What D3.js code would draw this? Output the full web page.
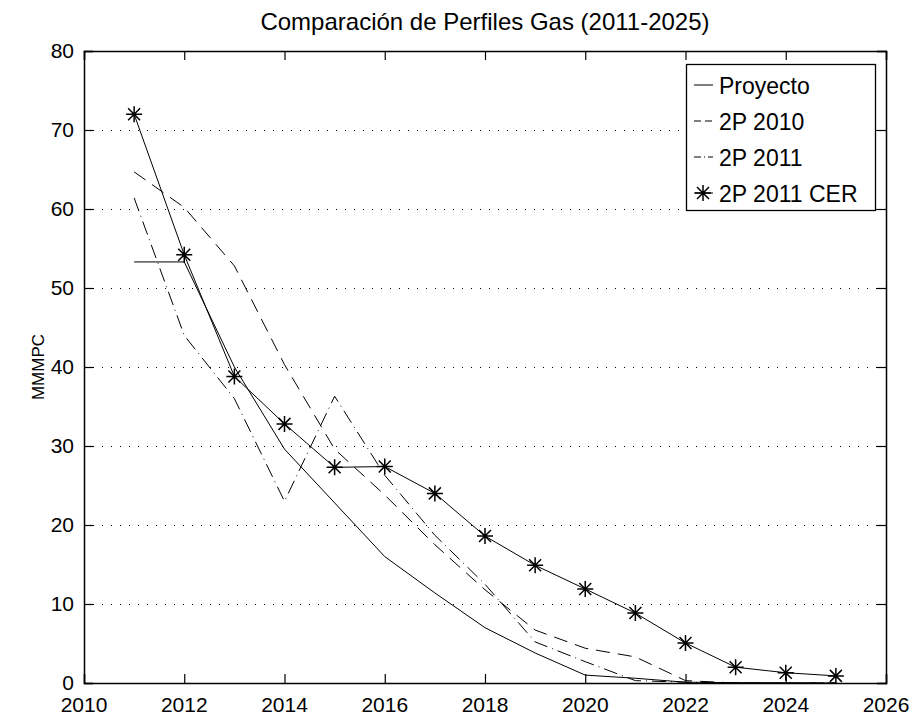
<!DOCTYPE html>
<html>
<head>
<meta charset="utf-8">
<script src="https://cdn.jsdelivr.net/npm/d3@7"></script>
<style>
  body { margin: 0; background: #fff; }
  text { font-family: "Liberation Sans", Arial, sans-serif; fill: #000; }
</style>
</head>
<body>
<div id="chart"></div>
<script>
var w = 915,
    h = 717;

// data
var years = [2011, 2012, 2013, 2014, 2015, 2016, 2017, 2018, 2019, 2020, 2021, 2022, 2023, 2024, 2025];
var proyecto = [53.3, 53.3, 40.0, 29.6, 22.8, 16.0, 11.4, 7.0, 3.8, 1.0, 0.6, 0.1, 0.05, 0.02, 0];
var p2010 = [64.7, 60.2, 52.8, 40.3, 29.6, 23.8, 17.5, 11.8, 6.7, 4.4, 3.3, 0.3, 0, 0, 0];
var p2011 = [61.4, 44.0, 36.0, 23.0, 36.3, 26.3, 18.7, 12.5, 5.2, 2.7, 0.3, 0.1, 0, 0, 0];
var p2011cer = [72.0, 54.2, 38.8, 32.8, 27.3, 27.4, 24.0, 18.6, 14.9, 11.9, 8.85, 5.06, 2.0, 1.3, 0.9];

var xTicks = [2010, 2012, 2014, 2016, 2018, 2020, 2022, 2024, 2026];
var yTicks = [0, 10, 20, 30, 40, 50, 60, 70, 80];
var gridTicks = [10, 20, 30, 40, 50, 60, 70];

var seriesNames = ["Proyecto", "2P 2010", "2P 2011", "2P 2011 CER"];
var seriesValues = [proyecto, p2010, p2011, p2011cer];
var dashes = [null, "14,8", "14,5,1,5", null];
var hasStars = [false, false, false, true];

var plotL = 84, plotR = 886, plotT = 51, plotB = 683;

var x = d3.scaleLinear().domain([2010, 2026]).range([plotL, plotR]);
var y = d3.scaleLinear().domain([0, 80]).range([plotB, plotT]);

var svg = d3.select("#chart").append("svg").
    attr("width", w).
    attr("height", h);

svg.append("rect").attr("width", w).attr("height", h).attr("fill", "#fff");

// dotted horizontal grid
svg.append("g").selectAll("line").data(gridTicks).enter().append("line").
    attr("x1", plotL).attr("x2", plotR).
    attr("y1", function(d) { return Math.round(y(d)) + 0.5; }).
    attr("y2", function(d) { return Math.round(y(d)) + 0.5; }).
    attr("stroke", "#000").
    attr("stroke-width", 1).
    attr("stroke-dasharray", "1,8").
    attr("shape-rendering", "crispEdges");

// lines
var line = d3.line().
    x(function(d) { return x(d[0]); }).
    y(function(d) { return y(d[1]); });

function starPath(cx, cy) {
  var a = 8, b = 6;
  return "M" + (cx - a) + "," + cy + "H" + (cx + a) +
         "M" + cx + "," + (cy - a) + "V" + (cy + a) +
         "M" + (cx - b) + "," + (cy - b) + "L" + (cx + b) + "," + (cy + b) +
         "M" + (cx - b) + "," + (cy + b) + "L" + (cx + b) + "," + (cy - b);
}

seriesValues.forEach(function(vals, i) {
  var pts = years.map(function(yr, j) { return [yr, vals[j]]; });
  svg.append("path").
      datum(pts).
      attr("d", line).
      attr("fill", "none").
      attr("stroke", "#000").
      attr("stroke-width", 1).
      attr("stroke-dasharray", dashes[i]);
  if (hasStars[i]) {
    svg.append("g").selectAll("path").data(pts).enter().append("path").
        attr("d", function(d) { return starPath(x(d[0]), y(d[1])); }).
        attr("stroke", "#000").
        attr("stroke-width", 1.5).
        attr("fill", "none");
  }
});

// axes, ticks pointing inwards, box all round
var tickLen = 9;
var ax = svg.append("g");

ax.append("g").attr("transform", "translate(0," + plotB + ")").
    call(d3.axisBottom(x).tickValues(xTicks).tickSize(-tickLen).tickFormat(""));
ax.append("g").attr("transform", "translate(0," + plotT + ")").
    call(d3.axisTop(x).tickValues(xTicks).tickSize(-tickLen).tickFormat(""));
ax.append("g").attr("transform", "translate(" + plotL + ",0)").
    call(d3.axisLeft(y).tickValues(yTicks).tickSize(-tickLen).tickFormat(""));
ax.append("g").attr("transform", "translate(" + plotR + ",0)").
    call(d3.axisRight(y).tickValues(yTicks).tickSize(-tickLen).tickFormat(""));
ax.selectAll(".domain").attr("stroke", "#000").attr("stroke-width", 1.5);
ax.selectAll(".tick line").attr("stroke", "#000").attr("stroke-width", 1.2);

// tick labels
svg.append("g").selectAll("text").data(xTicks).enter().append("text").
    attr("x", function(d) { return x(d); }).
    attr("y", 712).
    attr("text-anchor", "middle").
    style("font-size", "21px").
    text(function(d) { return d; });

svg.append("g").selectAll("text").data(yTicks).enter().append("text").
    attr("x", 74).
    attr("y", function(d) { return y(d) + 7; }).
    attr("text-anchor", "end").
    style("font-size", "21px").
    text(function(d) { return d; });

// title and y label
svg.append("text").
    attr("x", (plotL + plotR) / 2).
    attr("y", 30).
    attr("text-anchor", "middle").
    style("font-size", "24px").
    text("Comparación de Perfiles Gas (2011-2025)");

svg.append("text").
    attr("transform", "translate(44,367) rotate(-90)").
    attr("text-anchor", "middle").
    style("font-size", "17px").
    text("MMMPC");

// legend
var lg = svg.append("g");
var lgL = 686, lgR = 875, lgT = 64, lgB = 210;
lg.append("rect").
    attr("x", lgL + 0.5).attr("y", lgT + 0.5).
    attr("width", lgR - lgL).attr("height", lgB - lgT).
    attr("fill", "#fff").
    attr("stroke", "#000").
    attr("stroke-width", 1.3);

var rowY = [85, 121, 157, 193];
seriesNames.forEach(function(name, i) {
  lg.append("line").
      attr("x1", 694).attr("x2", 713).
      attr("y1", rowY[i]).attr("y2", rowY[i]).
      attr("stroke", "#000").
      attr("stroke-width", 1).
      attr("stroke-dasharray", i == 1 ? "7,4" : (i == 2 ? "7,3,1,3" : null));
  if (hasStars[i]) {
    lg.append("path").
        attr("d", starPath(703, rowY[i])).
        attr("stroke", "#000").
        attr("stroke-width", 1.5).
        attr("fill", "none");
  }
  lg.append("text").
      attr("x", 719).
      attr("y", rowY[i] + 9).
      style("font-size", "23px").
      text(name);
});
</script>
</body>
</html>
